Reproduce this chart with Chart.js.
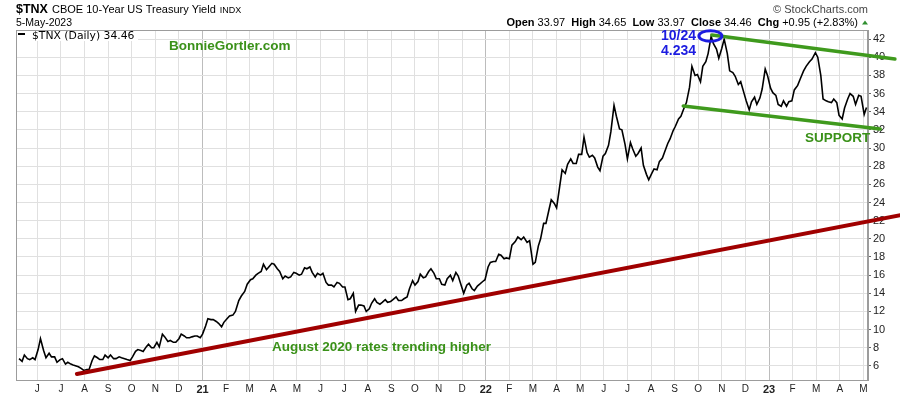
<!DOCTYPE html>
<html>
<head>
<meta charset="utf-8">
<script src="https://cdn.jsdelivr.net/npm/chart.js@4/dist/chart.umd.min.js"></script>
<style>
  html, body { margin: 0; padding: 0; background: #fff; }
  #wrap { width: 900px; height: 396px; position: relative; }
</style>
</head>
<body>
<div id="wrap"><canvas id="chart"></canvas></div>
<script>
// $TNX (yield x 10), two closes a week: Friday, then the next Tuesday
const firstFriday = '2020-05-08';
const tnxCloses = [
    6.8, 6.5, 7.2, 6.8, 6.7, 6.9, 6.7, 7.8, 9.0, 7.7,
    6.9, 7.4, 7.0, 7.0, 6.4, 6.7, 6.8, 6.2, 6.4, 6.2,
    6.1, 6.0, 5.9, 5.7, 5.5, 5.6, 5.6, 6.6, 7.1, 6.9,
    6.7, 6.7, 7.2, 6.9, 7.2, 6.8, 6.8, 7.0, 6.9, 6.8,
    6.7, 6.6, 7.0, 7.6, 7.8, 7.7, 7.6, 8.1, 8.4, 8.0,
    8.0, 8.6, 8.1, 9.5, 9.2, 8.7, 8.8, 8.6, 8.6, 9.0,
    9.5, 9.3, 9.1, 9.1, 9.2, 9.3, 9.3, 9.1, 9.5, 10.4,
    11.2, 11.1, 11.1, 10.9, 10.7, 10.3, 10.8, 11.2, 11.5, 11.6,
    12.0, 13.2, 13.7, 14.2, 15.0, 15.5, 15.6, 16.0, 16.2, 16.4,
    17.2, 16.6, 16.9, 17.3, 17.2, 16.7, 16.4, 15.6, 15.9, 15.7,
    15.8, 16.3, 16.2, 16.0, 16.1, 16.8, 16.7, 16.9, 16.3, 15.8,
    16.2, 16.0, 16.2, 15.2, 14.9, 14.9, 14.7, 15.2, 15.1, 14.7,
    14.7, 13.3, 13.4, 14.0, 12.0, 12.7, 12.7, 12.6, 12.0, 12.3,
    12.9, 13.4, 13.0, 12.8, 13.0, 13.3, 13.0, 13.1, 13.3, 13.6,
    13.2, 13.2, 13.4, 13.6, 14.5, 15.4, 14.9, 15.3, 16.1, 15.7,
    15.8, 16.4, 16.7, 16.2, 15.6, 15.6, 15.0, 14.9, 15.6, 16.0,
    15.4, 16.3, 15.9, 14.8, 14.0, 14.9, 15.1, 14.5, 14.3, 14.8,
    15.0, 15.3, 15.5, 16.9, 17.4, 17.5, 17.5, 18.3, 18.2, 17.8,
    17.9, 17.8, 19.3, 19.7, 20.2, 19.9, 20.2, 19.6, 19.8, 17.2,
    17.4, 19.2, 20.0, 21.7, 21.7, 23.2, 24.3, 23.9, 23.4, 25.8,
    27.6, 27.2, 28.2, 28.8, 28.3, 28.3, 29.3, 29.3, 31.2, 29.5,
    29.0, 29.2, 28.9, 27.9, 27.5, 29.1, 29.4, 30.3, 31.8, 34.7,
    33.5, 32.1, 32.0, 30.4, 28.8, 30.6, 29.9, 29.1, 29.4, 30.0,
    28.1, 27.1, 26.5, 27.2, 27.7, 27.6, 28.5, 28.9, 29.6, 30.5,
    31.0, 31.9, 32.4, 33.2, 33.5, 34.4, 35.0, 36.7, 39.0, 38.0,
    38.1, 37.3, 39.0, 39.5, 40.4, 42.3, 41.5, 40.9, 39.9, 41.0,
    42.0, 40.4, 38.5, 38.3, 37.9, 37.0, 37.3, 36.1, 35.2, 34.2,
    35.1, 35.6, 34.8, 35.5, 36.5, 38.7, 38.0, 36.6, 36.1, 35.8,
    34.8, 34.6, 35.2, 34.6, 35.1, 35.2, 36.4, 36.9, 37.6, 38.5,
    39.0, 39.5, 39.8, 40.5, 40.0, 38.0, 35.4, 35.2, 35.1, 35.0,
    35.4, 35.0, 33.6, 33.2, 34.4, 35.4, 36.0, 35.7, 34.8, 35.8,
    35.7, 33.7, 34.46
];

const monthLetters = ['J', 'F', 'M', 'A', 'M', 'J', 'J', 'A', 'S', 'O', 'N', 'D'];
const yTicks = [6, 8, 10, 12, 14, 16, 18, 20, 22, 24, 26, 28, 30, 32, 34, 36, 38, 40, 42];
const xRange = ['2020-05-04', '2023-05-07'];
const yRange = [4.45, 43];

// hand drawn lines on the chart: [date, value]
const risingLine = [['2020-07-22', 5.12], ['2023-06-18', 22.6]];
const resistanceLine = [['2022-10-19', 42.45], ['2023-06-11', 39.8]];
const supportLine = [['2022-09-12', 34.63], ['2023-05-23', 32.1]];
const peakMark = ['2022-10-17', 42.34];

const quoteLabels = ['Open', 'High', 'Low', 'Close', 'Chg'];
const quoteValues = ['33.97', '34.65', '33.97', '34.46', '+0.95 (+2.83%)'];

const SANS = '"Liberation Sans", Arial, sans-serif';
const GREEN = '#3a9119';
const BLUE = '#1c1ce0';

// months since Jan 2020, fractional
function monthPos(s) {
    const [y, m, d] = s.split('-').map(Number);
    const dim = new Date(Date.UTC(y, m, 0)).getUTCDate();
    return (y - 2020) * 12 + (m - 1) + (d - 1) / dim;
}

const start = Date.parse(firstFriday + 'T00:00:00Z');
const closeDates = tnxCloses.map((_, i) => {
    const days = Math.floor(i / 2) * 7 + (i % 2 ? 4 : 0);
    return new Date(start + days * 864e5).toISOString().slice(0, 10);
});
const tnxPoints = closeDates.map((d, i) => ({ x: monthPos(d), y: tnxCloses[i] }));
const toPoints = line => line.map(p => ({ x: monthPos(p[0]), y: p[1] }));

const lineSet = (data, color, width) => ({
    data: toPoints(data),
    borderColor: color,
    borderWidth: width,
    pointRadius: 0,
    borderCapStyle: 'round',
    clip: false,
});

const overlay = {
    id: 'overlay',
    beforeDatasetsDraw(chart) {
        const { ctx, chartArea: ca } = chart;
        ctx.save();
        ctx.strokeStyle = '#9c9c9c';
        ctx.lineWidth = 1;
        ctx.strokeRect(ca.left + 0.5, ca.top + 0.5, ca.right - ca.left - 1, ca.bottom - ca.top);
        ctx.restore();
    },
    afterDraw(chart) {
        const { ctx, scales } = chart;
        ctx.save();
        ctx.textBaseline = 'alphabetic';

        // title block
        ctx.fillStyle = '#000';
        ctx.font = 'bold 12.5px ' + SANS;
        ctx.fillText('$TNX', 16, 13);
        let x = 16 + ctx.measureText('$TNX').width + 4;
        ctx.font = '11px ' + SANS;
        ctx.fillText('CBOE 10-Year US Treasury Yield', x, 13);
        x += ctx.measureText('CBOE 10-Year US Treasury Yield').width + 4;
        ctx.font = '9px ' + SANS;
        ctx.fillText('INDX', x, 13);
        ctx.font = '10.5px ' + SANS;
        ctx.fillText('5-May-2023', 16, 26);

        // right block
        ctx.textAlign = 'right';
        ctx.fillStyle = '#444';
        ctx.font = '11px ' + SANS;
        ctx.fillText('\u00A9 StockCharts.com', 868, 13);
        ctx.textAlign = 'left';
        const parts = [];
        quoteLabels.forEach((l, i) => {
            parts.push(['bold 11px ' + SANS, l + ' ']);
            parts.push(['11px ' + SANS, quoteValues[i] + (i < quoteLabels.length - 1 ? '  ' : '')]);
        });
        let total = 0;
        parts.forEach(p => { ctx.font = p[0]; total += ctx.measureText(p[1]).width; });
        x = 858 - total;
        ctx.fillStyle = '#000';
        parts.forEach(p => { ctx.font = p[0]; ctx.fillText(p[1], x, 26); x += ctx.measureText(p[1]).width; });
        ctx.fillStyle = '#2f8f2f';
        ctx.beginPath();
        ctx.moveTo(862, 24.5); ctx.lineTo(868, 24.5); ctx.lineTo(865, 20.5); ctx.closePath();
        ctx.fill();

        // legend
        ctx.fillStyle = '#fff';
        ctx.fillRect(17, 31, 121, 10);
        ctx.fillStyle = '#000';
        ctx.fillRect(18, 33, 7, 2);
        ctx.font = '10.8px "DejaVu Sans", sans-serif';
        ctx.fillText('$TNX (Daily) 34.46', 32, 38.5);

        // annotations
        ctx.textBaseline = 'middle';
        ctx.fillStyle = GREEN;
        ctx.font = 'bold 13.5px ' + SANS;
        ctx.fillText('BonnieGortler.com', 169, 46);
        ctx.fillText('August 2020 rates trending higher', 272, 347);
        ctx.fillText('SUPPORT', 805, 138.5);
        ctx.fillStyle = BLUE;
        ctx.font = 'bold 14px ' + SANS;
        ctx.fillText('10/24', 661, 36.5);
        ctx.fillText('4.234', 661, 51.5);

        const cx = scales.x.getPixelForValue(monthPos(peakMark[0]));
        const cy = scales.y.getPixelForValue(peakMark[1]);
        ctx.strokeStyle = BLUE;
        ctx.lineWidth = 3;
        ctx.beginPath();
        ctx.ellipse(cx, cy, 11.5, 5.3, 0, 0, Math.PI * 2);
        ctx.stroke();
        ctx.restore();
    }
};

new Chart(document.getElementById('chart'), {
    type: 'line',
    data: {
        datasets: [
            lineSet(risingLine, '#a00000', 4),
            lineSet(resistanceLine, '#3f9a1d', 3.5),
            lineSet(supportLine, '#3f9a1d', 3.5),
            {
                data: tnxPoints,
                borderColor: '#000',
                borderWidth: 1.6,
                pointRadius: 0,
                tension: 0,
            },
        ],
    },
    options: {
        responsive: true,
        maintainAspectRatio: false,
        animation: false,
        layout: { padding: { left: 16, top: 30, right: 0, bottom: 0 } },
        plugins: { legend: { display: false }, tooltip: { enabled: false } },
        scales: {
            x: {
                type: 'linear',
                min: monthPos(xRange[0]),
                max: monthPos(xRange[1]),
                afterBuildTicks(scale) {
                    const ticks = [];
                    for (let m = Math.ceil(scale.min); m <= scale.max; m++) ticks.push({ value: m });
                    scale.ticks = ticks;
                },
                afterFit(scale) { scale.height = 16; },
                grid: {
                    color: c => (c.tick && c.tick.value % 12 === 0 ? '#bcbcbc' : '#e0e0e0'),
                    drawTicks: false,
                },
                border: { color: '#9c9c9c' },
                ticks: {
                    padding: 3,
                    maxRotation: 0,
                    autoSkip: false,
                    color: '#222',
                    font: c => (c.tick && c.tick.value % 12 === 0
                        ? { family: SANS, size: 11, weight: 'bold' }
                        : { family: SANS, size: 10 }),
                    callback: v => (v % 12 === 0 ? String(20 + v / 12) : monthLetters[v % 12]),
                },
            },
            y: {
                position: 'right',
                min: yRange[0],
                max: yRange[1],
                afterBuildTicks(scale) { scale.ticks = yTicks.map(v => ({ value: v })); },
                afterFit(scale) { scale.width = 32; },
                grid: { color: '#e0e0e0', tickColor: '#666', tickLength: 3 },
                border: { color: '#9c9c9c' },
                ticks: { padding: 2, color: '#222', font: { family: SANS, size: 11 } },
            },
        },
    },
    plugins: [overlay],
});
</script>
</body>
</html>
